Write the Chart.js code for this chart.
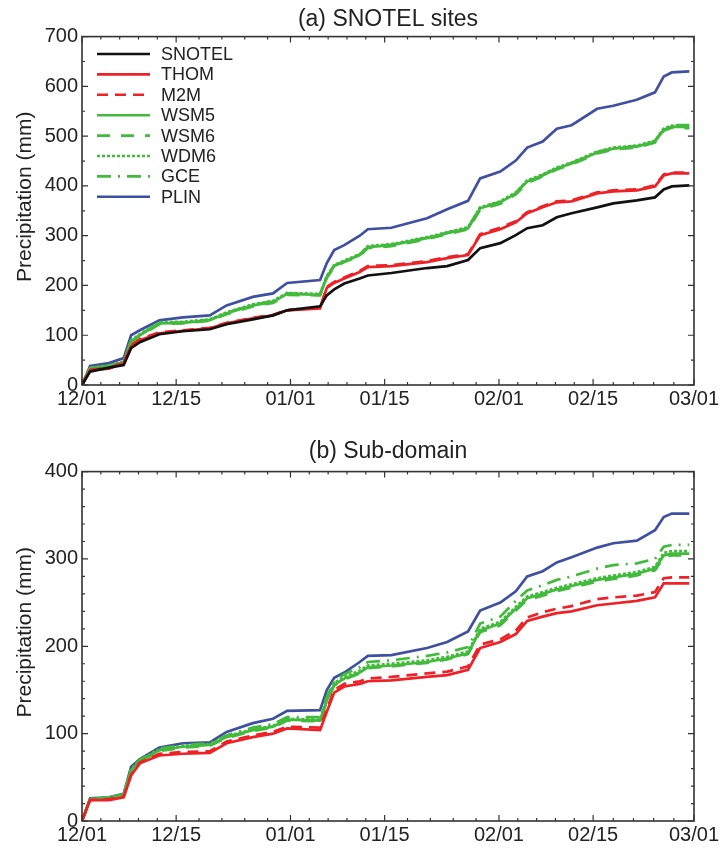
<!DOCTYPE html>
<html>
<head>
<meta charset="utf-8">
<script src="https://cdn.jsdelivr.net/npm/chart.js@4.4.1/dist/chart.umd.min.js"></script>
<style>
  html, body { margin: 0; padding: 0; background: #fff; }
  #wrap { position: relative; width: 723px; height: 849px; }
  canvas { position: absolute; left: 0; }
  #chartA { top: 0; }
  #chartB { top: 425px; }
</style>
</head>
<body>
<div id="wrap">
  <canvas id="chartA" width="723" height="425"></canvas>
  <canvas id="chartB" width="723" height="424"></canvas>
</div>
<script>
// Cumulative precipitation, days since 12/01 (leap-year winter, 03/01 = day 91)
const days = [0, 1.2, 4, 6.2, 7.3, 8.6, 11.5, 15, 19, 21.5, 25.4, 28.4, 30.5, 35.4, 36.4, 37.5, 39, 41.3,
  42.5, 46, 51.3, 54.3, 57.4, 59.2, 62.2, 64.5, 66.2, 68.5, 70.6, 72.8, 76.6, 79, 82.5, 85.2, 86.5, 87.7, 90.3];

const xTickDays = [0, 14, 31, 45, 62, 76, 91];
const xTickLabels = ['12/01', '12/15', '01/01', '01/15', '02/01', '02/15', '03/01'];

const seriesNames = ['SNOTEL', 'THOM', 'M2M', 'WSM5', 'WSM6', 'WDM6', 'GCE', 'PLIN'];

// (a) SNOTEL sites
const snotelA = [0, 27, 35, 40, 74, 86, 102, 108, 112, 122, 132, 140, 150, 158, 180, 192, 204, 214,
  220, 225, 235, 239, 251, 275, 285, 301, 315, 321, 337, 345, 357, 365, 371, 377, 393, 399, 401];
const thomA = [0, 30, 33, 44, 78, 90, 104, 109, 114, 124, 134, 140, 150, 154, 195, 205, 214, 227,
  237, 239, 247, 255, 261, 301, 313, 327, 345, 357, 367, 369, 385, 389, 391, 399, 421, 425, 425];
const m2mA = [0, 31, 34, 45, 80, 92, 106, 110, 115, 125, 135, 141, 151, 155, 197, 207, 216, 229,
  239, 241, 249, 257, 263, 303, 316, 329, 347, 359, 369, 371, 387, 391, 393, 401, 423, 427, 427];
const wsm5A = [0, 34, 38, 46, 88, 100, 124, 125, 130, 144, 160, 167, 183, 181, 217, 239, 248, 261,
  277, 281, 295, 305, 315, 355, 367, 385, 409, 421, 435, 445, 467, 475, 479, 489, 513, 519, 518];
const wsm6A = [0, 33, 37, 45, 86, 99, 122, 124, 129, 142, 158, 165, 181, 180, 215, 237, 247, 259,
  275, 279, 293, 303, 313, 352, 364, 383, 406, 419, 433, 443, 465, 473, 477, 487, 511, 517, 516];
const wdm6A = [0, 35, 39, 47, 90, 102, 126, 127, 132, 146, 162, 169, 185, 183, 219, 241, 250, 263,
  279, 283, 297, 307, 317, 357, 369, 387, 411, 423, 437, 447, 469, 477, 481, 491, 515, 521, 520];
const gceA = [0, 34, 38, 46, 89, 101, 125, 126, 131, 145, 161, 168, 184, 182, 218, 240, 249, 262,
  278, 282, 296, 306, 316, 356, 368, 386, 410, 422, 436, 446, 468, 476, 480, 490, 514, 522, 522];
const plinA = [0, 38, 44, 54, 100, 110, 130, 136, 140, 160, 177, 184, 205, 211, 245, 271, 281, 300,
  313, 316, 335, 353, 370, 415, 429, 451, 477, 489, 515, 522, 555, 561, 573, 588, 620, 628, 630];

// (b) Sub-domain
const thomB = [0, 24, 24, 27, 52, 66, 75, 77, 78, 89, 96, 100, 106, 104, 125, 147, 154, 157,
  160, 161, 165, 167, 173, 198, 205, 214, 229, 234, 238, 240, 247, 249, 252, 256, 272, 272, 272];
const m2mB = [0, 24, 25, 28, 53, 67, 77, 79, 80, 91, 98, 102, 108, 107, 128, 150, 157, 160,
  163, 165, 169, 171, 177, 202, 208, 218, 233, 239, 243, 246, 254, 256, 258, 262, 278, 279, 279];
const wsm5B = [0, 25, 26, 30, 58, 69, 81, 85, 87, 96, 104, 108, 116, 115, 138, 156, 163, 170,
  176, 178, 182, 186, 192, 218, 226, 243, 255, 260, 265, 269, 276, 279, 283, 289, 304, 306, 306];
const wsm6B = [0, 25, 26, 30, 57, 68, 80, 84, 86, 95, 103, 107, 115, 114, 137, 155, 162, 169,
  175, 177, 181, 185, 191, 216, 224, 241, 253, 258, 263, 267, 274, 277, 281, 287, 302, 304, 304];
const wdm6B = [0, 25, 27, 31, 59, 70, 82, 86, 88, 97, 105, 109, 117, 116, 140, 158, 165, 172,
  178, 180, 184, 188, 194, 220, 228, 245, 257, 262, 267, 271, 278, 281, 285, 291, 307, 309, 309];
const gceB = [0, 25, 27, 31, 59, 70, 83, 87, 89, 98, 107, 111, 119, 119, 142, 160, 168, 176,
  182, 184, 189, 193, 199, 226, 234, 252, 264, 270, 276, 280, 289, 293, 295, 300, 314, 316, 316];
const plinB = [0, 26, 27, 31, 62, 71, 84, 89, 90, 102, 112, 117, 126, 127, 150, 164, 170, 182,
  189, 190, 198, 205, 217, 241, 250, 263, 280, 286, 296, 302, 313, 318, 321, 333, 348, 352, 352];

const RED = '#ee2127';
const GREEN = '#42bb3c';
const STYLES = {
  SNOTEL: { color: '#111111', dash: [] },
  THOM:   { color: RED, dash: [] },
  M2M:    { color: RED, dash: [11, 7] },
  WSM5:   { color: GREEN, dash: [] },
  WSM6:   { color: GREEN, dash: [13, 11] },
  WDM6:   { color: GREEN, dash: [3, 2] },
  GCE:    { color: GREEN, dash: [14, 7, 2, 7] },
  PLIN:   { color: '#3f50a2', dash: [] }
};

const FONT = "'Liberation Sans', Arial, Helvetica, sans-serif";

function makeDataset(name, values) {
  const st = STYLES[name];
  return {
    label: name,
    data: days.map((d, i) => ({ x: d, y: values[i] })),
    borderColor: st.color,
    borderDash: st.dash,
    borderWidth: 2.7,
    pointRadius: 0,
    tension: 0,
    fill: false
  };
}

// frame, inward ticks, y label and the in-plot legend
const framePlugin = {
  id: 'frame',
  afterDatasetsDraw(chart, args, opts) {
    const { ctx, chartArea: a, scales: { x, y } } = chart;
    ctx.save();
    ctx.setLineDash([]);
    ctx.strokeStyle = '#333';
    ctx.lineWidth = 1.6;
    ctx.strokeRect(a.left, a.top, a.width, a.height);

    ctx.lineWidth = 1.2;
    ctx.beginPath();
    // x ticks, major + 4 minor between majors
    for (let i = 0; i < xTickDays.length; i++) {
      const px = x.getPixelForValue(xTickDays[i]);
      ctx.moveTo(px, a.bottom); ctx.lineTo(px, a.bottom - 6);
      ctx.moveTo(px, a.top); ctx.lineTo(px, a.top + 6);
      if (i < xTickDays.length - 1) {
        const step = (xTickDays[i + 1] - xTickDays[i]) / 5;
        for (let k = 1; k < 5; k++) {
          const mx = x.getPixelForValue(xTickDays[i] + k * step);
          ctx.moveTo(mx, a.bottom); ctx.lineTo(mx, a.bottom - 3);
          ctx.moveTo(mx, a.top); ctx.lineTo(mx, a.top + 3);
        }
      }
    }
    // y ticks
    for (let v = y.min; v <= y.max; v += opts.yMinor) {
      const py = y.getPixelForValue(v);
      const len = (v % 100 === 0) ? 6 : 3;
      ctx.moveTo(a.left, py); ctx.lineTo(a.left + len, py);
      ctx.moveTo(a.right, py); ctx.lineTo(a.right - len, py);
    }
    ctx.stroke();

    // y axis label
    ctx.fillStyle = '#222';
    ctx.font = '21px ' + FONT;
    ctx.textAlign = 'center';
    ctx.textBaseline = 'middle';
    ctx.translate(25, (a.top + a.bottom) / 2 - 14);
    ctx.rotate(-Math.PI / 2);
    ctx.fillText('Precipitation (mm)', 0, 0);
    ctx.restore();

    if (opts.legend) {
      ctx.save();
      ctx.font = '18px ' + FONT;
      ctx.textAlign = 'left';
      ctx.textBaseline = 'middle';
      chart.data.datasets.forEach((ds, i) => {
        const ly = 54 + i * 20.4;
        ctx.strokeStyle = ds.borderColor;
        ctx.lineWidth = 2.6;
        ctx.setLineDash(ds.borderDash);
        ctx.beginPath();
        ctx.moveTo(97, ly); ctx.lineTo(150, ly);
        ctx.stroke();
        ctx.fillStyle = '#222';
        ctx.fillText(ds.label, 161, ly + 1);
      });
      ctx.restore();
    }
  }
};

function makeChart(canvasId, title, titlePad, datasets, yMax, yMinor, xHeight, legend) {
  return new Chart(document.getElementById(canvasId), {
    type: 'line',
    data: { datasets },
    options: {
      responsive: false,
      animation: false,
      layout: { padding: { left: 0, right: 29, top: 0, bottom: 0 } },
      plugins: {
        legend: { display: false },
        tooltip: { enabled: false },
        title: {
          display: true,
          text: title,
          fullSize: false,
          color: '#222',
          font: { family: FONT, size: 23, weight: 'normal', lineHeight: 1.2 },
          padding: titlePad
        },
        frame: { yMinor, legend }
      },
      scales: {
        x: {
          type: 'linear',
          min: 0,
          max: 91,
          grid: { display: false, drawTicks: false },
          border: { display: false },
          afterBuildTicks: s => { s.ticks = xTickDays.map(v => ({ value: v })); },
          afterFit: s => { s.height = xHeight; },
          ticks: {
            autoSkip: false,
            maxRotation: 0,
            padding: 2,
            color: '#222',
            font: { family: FONT, size: 20 },
            callback: v => xTickLabels[xTickDays.indexOf(v)]
          }
        },
        y: {
          min: 0,
          max: yMax,
          grid: { display: false, drawTicks: false },
          border: { display: false },
          afterFit: s => { s.width = 82; },
          ticks: {
            stepSize: 100,
            padding: 4,
            color: '#222',
            font: { family: FONT, size: 20 }
          }
        }
      }
    },
    plugins: [framePlugin]
  });
}

const datasetsA = [
  makeDataset('SNOTEL', snotelA),
  makeDataset('THOM', thomA),
  makeDataset('M2M', m2mA),
  makeDataset('WSM5', wsm5A),
  makeDataset('WSM6', wsm6A),
  makeDataset('WDM6', wdm6A),
  makeDataset('GCE', gceA),
  makeDataset('PLIN', plinA)
];

const datasetsB = [
  makeDataset('THOM', thomB),
  makeDataset('M2M', m2mB),
  makeDataset('WSM5', wsm5B),
  makeDataset('WSM6', wsm6B),
  makeDataset('WDM6', wdm6B),
  makeDataset('GCE', gceB),
  makeDataset('PLIN', plinB)
];

makeChart('chartA', '(a) SNOTEL sites', { top: 6, bottom: 3 }, datasetsA, 700, 50, 40, true);
makeChart('chartB', '(b) Sub-domain', { top: 13, bottom: 6 }, datasetsB, 400, 20, 28, false);
</script>
</body>
</html>
